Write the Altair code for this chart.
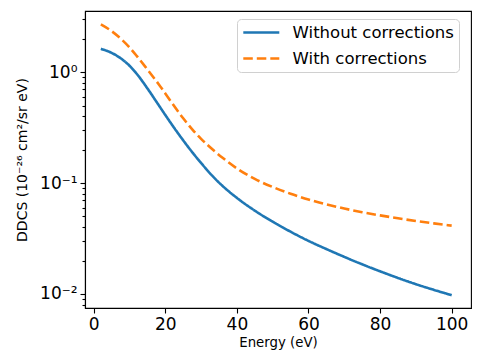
import altair as alt
import pandas as pd

energy = [2, 5, 8, 10, 12, 15, 18, 20, 22, 25, 28, 30, 33, 36, 40, 45, 50,
          55, 60, 65, 70, 75, 80, 85, 90, 95, 100]
without_corr = [1.622, 1.493, 1.300, 1.143, 0.968, 0.714, 0.513, 0.411, 0.331,
                0.2427, 0.1816, 0.1517, 0.1175, 0.0942, 0.0735, 0.0564, 0.0448,
                0.0364, 0.0301, 0.0254, 0.0216, 0.0185, 0.0160, 0.01394,
                0.01225, 0.01089, 0.00974]
with_corr = [2.692, 2.344, 1.945, 1.671, 1.403, 1.057, 0.7907, 0.6427, 0.520,
             0.3837, 0.2931, 0.2506, 0.2037, 0.169, 0.1355, 0.1089, 0.0921,
             0.0801, 0.0711, 0.0643, 0.0589, 0.0546, 0.0511, 0.0481, 0.0455,
             0.0433, 0.0413]
series_names = ["Without corrections", "With corrections"]
x_ticks = [0, 20, 40, 60, 80, 100]
y_major = [0.01, 0.1, 1]
y_minor = [0.008, 0.009, 0.02, 0.03, 0.04, 0.05, 0.06, 0.07, 0.08, 0.09,
           0.2, 0.3, 0.4, 0.5, 0.6, 0.7, 0.8, 0.9, 2, 3]

rows = []
for e, v in zip(energy, without_corr):
    rows.append({"Energy": e, "DDCS": v, "series": series_names[0]})
for e, v in zip(energy, with_corr):
    rows.append({"Energy": e, "DDCS": v, "series": series_names[1]})
df = pd.DataFrame(rows)

FONT = "DejaVu Sans"

legend_opts = dict(title=None, orient="none", legendX=152, legendY=8,
                   symbolType="M-1,0H4", symbolSize=207.36,
                   symbolStrokeWidth=2.6, labelFontSize=16.5,
                   labelOffset=33.6, rowPadding=9, padding=5,
                   strokeColor="#d0d0d0", fillColor="white",
                   cornerRadius=4, labelColor="black", labelLimit=300)

chart = alt.Chart(df).mark_line(strokeWidth=2.6, interpolate="monotone").encode(
    x=alt.X("Energy:Q",
            scale=alt.Scale(domain=[-2.43, 105.4], nice=False, zero=False),
            axis=alt.Axis(values=x_ticks, title="Energy (eV)", grid=False,
                          labelFontSize=17, titleFontSize=13.3, tickSize=5,
                          labelPadding=3, titlePadding=3, labelFlush=False,
                          domainColor="black", tickColor="black",
                          labelColor="black", titleColor="black",
                          titleFontWeight="normal")),
    y=alt.Y("DDCS:Q",
            scale=alt.Scale(type="log", domain=[0.00747, 3.56], nice=False),
            axis=alt.Axis(values=y_major + y_minor, grid=False,
                          title="DDCS (10⁻²⁶ cm²/sr eV)",
                          labelExpr="datum.value == 1 ? '10⁰' : datum.value == 0.1 ? '10⁻¹' : datum.value == 0.01 ? '10⁻²' : ''",
                          tickSize={"condition": {"test": "datum.value == 1 || datum.value == 0.1 || datum.value == 0.01", "value": 5}, "value": 3},
                          labelFontSize=17, titleFontSize=14, labelPadding=3,
                          titlePadding=10, labelFlush=False,
                          domainColor="black", tickColor="black",
                          labelColor="black", titleColor="black",
                          titleFontWeight="normal")),
    color=alt.Color("series:N",
                    scale=alt.Scale(domain=series_names, range=["#1f77b4", "#ff7f0e"]),
                    legend=alt.Legend(**legend_opts)),
    strokeDash=alt.StrokeDash("series:N",
                              scale=alt.Scale(domain=series_names, range=[[1, 0], [9.5, 4]]),
                              legend=alt.Legend(**legend_opts)),
).properties(
    width=386, height=297,
    autosize=alt.AutoSizeParams(type="none"),
    padding={"left": 77, "top": 3, "right": 1, "bottom": 45},
).configure(
    font=FONT,
).configure_view(
    stroke="black", strokeWidth=1.1,
).configure_axis(
    labelFont=FONT, titleFont=FONT, domainWidth=1.1, tickWidth=1.1,
).configure_legend(
    labelFont=FONT,
)

chart.save("out.html", embed_options={"renderer": "svg", "actions": False})
